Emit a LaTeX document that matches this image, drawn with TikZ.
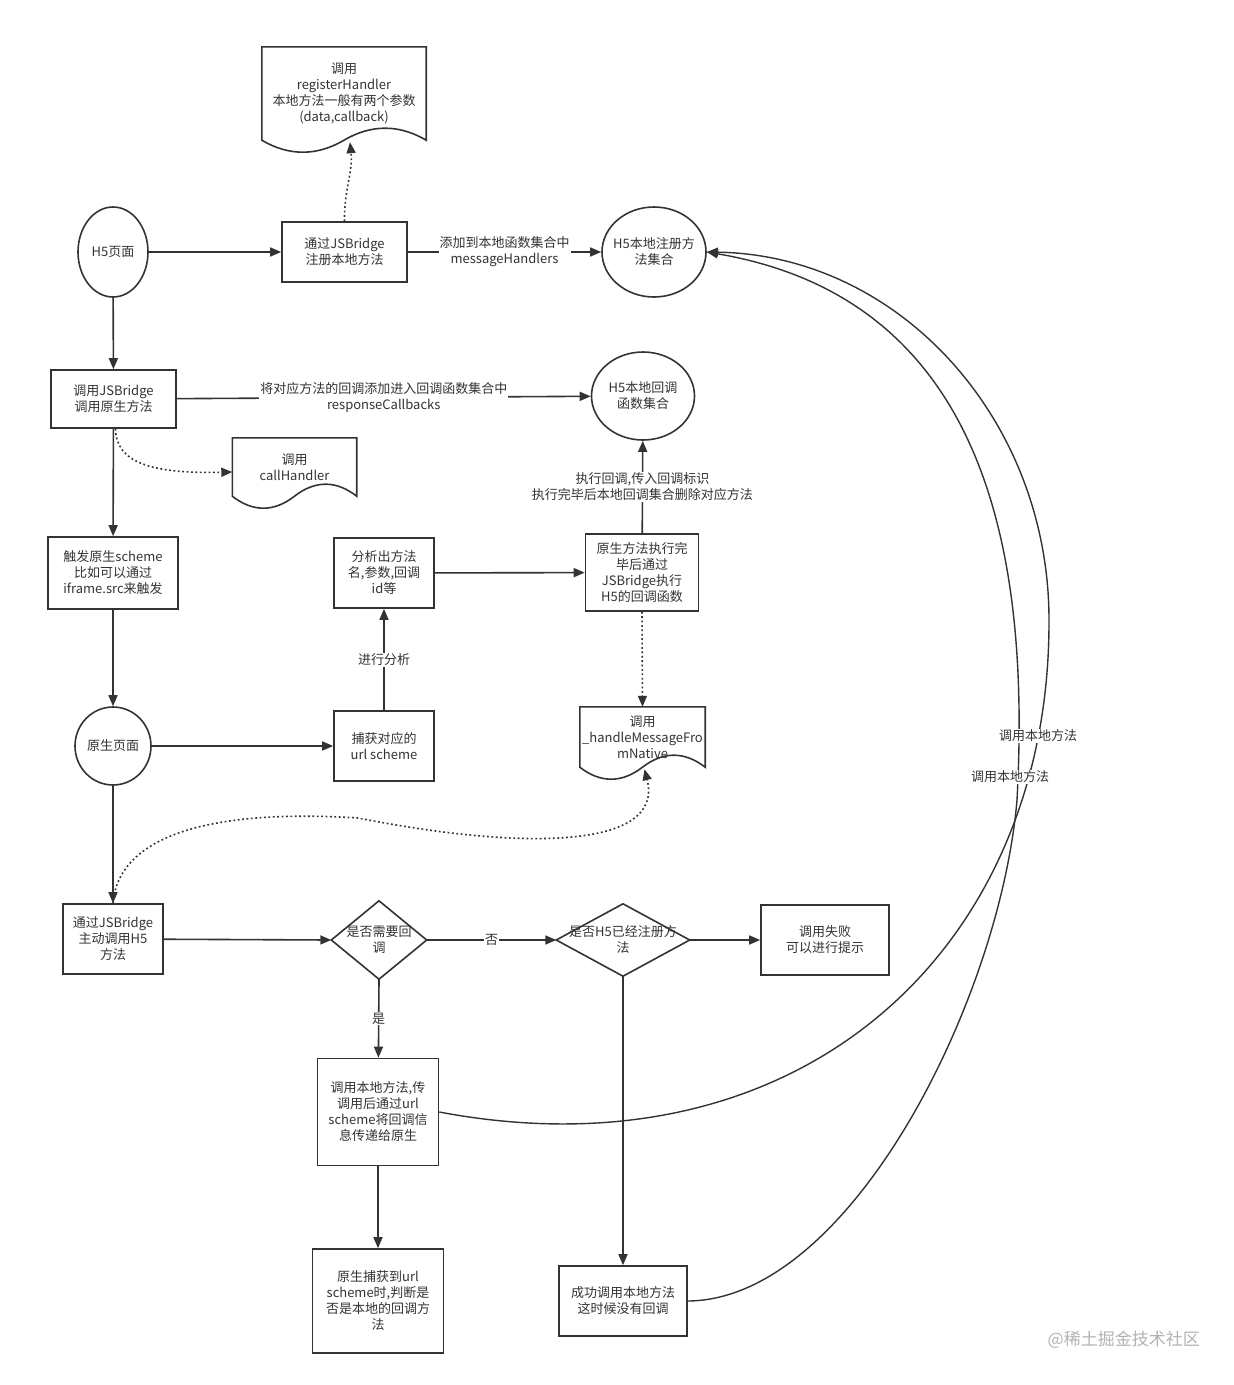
\documentclass[tikz,border=0pt]{standalone}
\usepackage{fontspec}
\usepackage{tikz}
\usetikzlibrary{arrows.meta,calc,shapes.geometric}
\newfontfamily\cjk{Noto Sans CJK SC}
\definecolor{ink}{HTML}{333333}

% wavy bottom of a document node
\newcommand{\docoutline}[1]{%
  \draw[shapeline] (#1.south west) -- (#1.north west) -- (#1.north east) -- (#1.south east)
    .. controls ($(#1.south east)!0.33!(#1.south)+(0,16)$) and ($(#1.south)!0.33!(#1.south east)+(0,16)$) .. (#1.south)
    .. controls ($(#1.south)!0.33!(#1.south west)+(0,-16)$) and ($(#1.south west)!0.33!(#1.south)+(0,-16)$) .. (#1.south west) -- cycle;}
% rhombus round a decision node
\newcommand{\decisionoutline}[1]{%
  \draw[shapeline] (#1.north) -- (#1.east) -- (#1.south) -- (#1.west) -- cycle;}

\begin{document}
\begin{tikzpicture}[x=1pt,y=1pt,
    every node/.style={font=\cjk\fontsize{13}{16}\selectfont, text=ink, align=center, inner sep=0pt},
    shapeline/.style={draw=ink, line width=1.6pt},
    box/.style={rectangle, shapeline},
    bubble/.style={ellipse, shapeline, inner xsep=-10pt},
    flow/.style={draw=ink, line width=1.6pt, -{Triangle[length=11pt,width=9pt]}},
    dots/.style={flow, dash pattern=on 1.8pt off 2.6pt},
    loopline/.style={flow, line width=1.4pt},
    lbl/.style={fill=white, inner sep=1pt}]
    \useasboundingbox (0,0) rectangle (1234,-1385);

    % top row
    \node[minimum width=164, minimum height=93] (regdoc) at (344,-93.5) {调用\\registerHandler\\本地方法一般有两个参数\\(data,callback)};
    \docoutline{regdoc}
    \node[bubble, minimum width=70, minimum height=90] (h5page) at (113,-252) {H5页面};
    \node[box, minimum width=125, minimum height=60] (regbox) at (344.5,-252) {通过JSBridge\\注册本地方法};
    \node[bubble, minimum width=104, minimum height=90] (h5handlers) at (654,-252) {H5本地注册方\\法集合};

    % second row
    \node[box, minimum width=125, minimum height=58] (callbox) at (113.5,-399) {调用JSBridge\\调用原生方法};
    \node[bubble, minimum width=103, minimum height=88] (h5callbacks) at (643,-396) {H5本地回调\\函数集合};
    \node[minimum width=124, minimum height=58] (calldoc) at (294.5,-467) {调用\\callHandler};
    \docoutline{calldoc}

    % native side
    \node[box, minimum width=130, minimum height=72] (schemebox) at (113,-573) {触发原生scheme\\比如可以通过\\iframe.src来触发};
    \node[box, minimum width=100, minimum height=70] (parsebox) at (384,-573) {分析出方法\\名,参数,回调\\id等};
    \node[box, minimum width=113, minimum height=77] (execbox) at (642,-572.5) {原生方法执行完\\毕后通过\\JSBridge执行\\H5的回调函数};
    \node[bubble, minimum width=76, minimum height=78] (nativepage) at (113,-746) {原生页面};
    \node[box, minimum width=100, minimum height=70] (catchbox) at (384,-746) {捕获对应的\\url scheme};
    \node[minimum width=125, minimum height=60] (handledoc) at (642.5,-737) {调用\\\_handleMessageFro\\mNative};
    \docoutline{handledoc}

    % decisions
    \node[box, minimum width=100, minimum height=70] (activebox) at (113,-939) {通过JSBridge\\主动调用H5\\方法};
    \node[minimum width=95, minimum height=78] (needcb) at (379,-940) {是否需要回\\调};
    \decisionoutline{needcb}
    \node[minimum width=133, minimum height=72] (registered) at (623,-940) {是否H5已经注册方\\法};
    \decisionoutline{registered}
    \node[box, minimum width=128, minimum height=70] (failbox) at (825,-940) {调用失败\\可以进行提示};
    \node[box, minimum width=121, minimum height=107] (localbox) at (378,-1112) {调用本地方法,传\\调用后通过url\\scheme将回调信\\息传递给原生};
    \node[box, minimum width=131, minimum height=104] (checkbox) at (378,-1301) {原生捕获到url\\scheme时,判断是\\否是本地的回调方\\法};
    \node[box, minimum width=128, minimum height=70] (okbox) at (623,-1301) {成功调用本地方法\\这时候没有回调};

    % connectors
    \draw[flow] (h5page) -- (regbox);
    \draw[flow] (regbox) -- node[lbl] (addlbl) {添加到本地函数集合中\\messageHandlers} (h5handlers);
    \draw[dots] (regbox.north) .. controls (344,-190) and (353,-172) .. ($(regdoc.south)+(6,-2)$);
    \draw[flow] (h5page) -- (callbox);
    \draw[flow] (callbox) -- node[lbl] (cblbl) {将对应方法的回调添加进入回调函数集合中\\responseCallbacks} (h5callbacks);
    \draw[dots] ($(callbox.south)+(2,0)$) .. controls (116,-462) and (150,-474) .. ($(calldoc.west)+(0,-5)$);
    \draw[flow] (callbox) -- (schemebox);
    \draw[flow] (schemebox) -- (nativepage);
    \draw[flow] (nativepage) -- (catchbox);
    \draw[flow] (catchbox) -- node[lbl] (parselbl) {进行分析} (parsebox);
    \draw[flow] (parsebox) -- (execbox);
    \draw[flow] (execbox) -- node[lbl] (execlbl) {执行回调,传入回调标识\\执行完毕后本地回调集合删除对应方法} (h5callbacks);
    \draw[dots] (execbox.south) -- (handledoc.north);
    \draw[flow] (nativepage) -- (activebox);
    \draw[dots] (activebox.north) .. controls (118,-840) and (200,-808) .. (358,-818)
        .. controls (520,-850) and (665,-850) .. ($(handledoc.south)+(2,-2)$);
    \draw[flow] (activebox) -- (needcb.west);
    \draw[flow] (needcb.east) -- node[lbl] (nolbl) {否} (registered.west);
    \draw[flow] (registered.east) -- (failbox);
    \draw[flow] (needcb.south) -- node[lbl] (yeslbl) {是} (localbox);
    \draw[flow] (localbox) -- (checkbox);
    \draw[flow] (registered.south) -- (okbox);
    \draw[loopline] (localbox.east) .. controls (800,-1180) and (1050,-950) .. (1049,-620)
        .. controls (1049,-420) and (900,-255) .. (h5handlers.east);
    \draw[loopline] (okbox.east) .. controls (850,-1300) and (1000,-1000) .. (1017,-800)
        .. controls (1030,-560) and (990,-300) .. (h5handlers.east);
    \node[lbl] (calllblA) at (1038,-736) {调用本地方法};
    \node[lbl] (calllblB) at (1010,-777) {调用本地方法};

    \node[font=\cjk\fontsize{17}{20}\selectfont, text=gray!60, anchor=east] (mark) at (1200,-1340) {@稀土掘金技术社区};
\end{tikzpicture}
\end{document}
